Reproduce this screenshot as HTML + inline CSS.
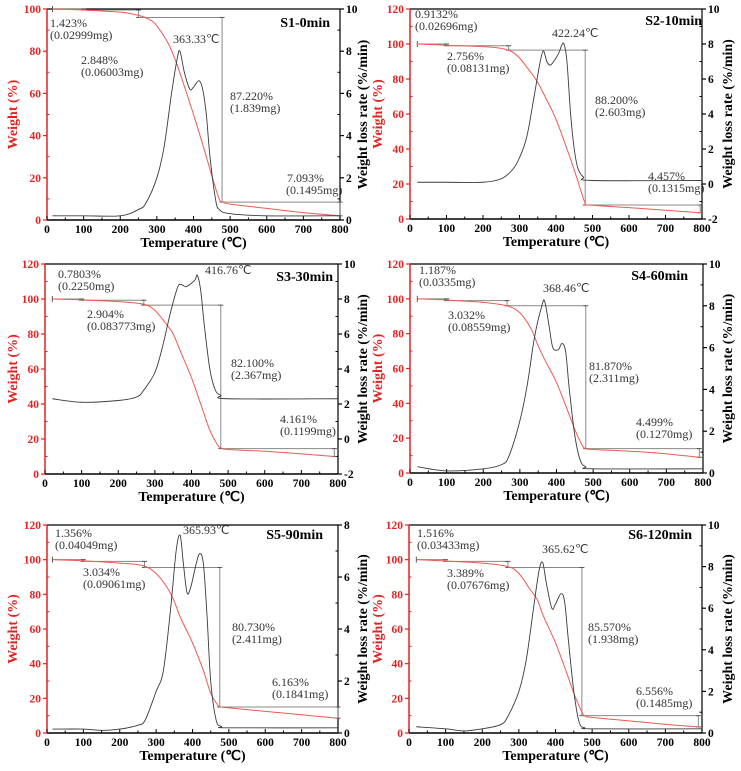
<!DOCTYPE html>
<html><head><meta charset="utf-8"><style>
body{margin:0;background:#fff}
svg{display:block}
text{font-family:"Liberation Serif",serif}
.tk{font-weight:bold;font-size:11.5px}
.an{font-size:12px;fill:#333}
</style></head><body>
<svg id="fig" width="741" height="771" viewBox="0 0 741 771"></svg>
<script>
// ---- data per panel ----
const p1WT=[15,100,200,250,280,300,330,350,370,400,430,450,470,480,500,600,700,800];
const p1W=[100,99.5,98.5,97,95,92,84,76,66,50,33,21,10,8.5,7.5,5.5,3.5,2];
const p1DT=[15,100,200,250,270,300,320,340,355,363,375,390,400,415,425,435,445,460,470,500,600,800];
const p1D=[0.2,0.2,0.2,0.5,0.8,2.0,3.5,6.0,7.6,8.0,7.0,6.2,6.3,6.6,6.2,5.0,3.0,1.0,0.5,0.3,0.2,0.2];
const p2WT=[20,100,200,250,280,300,330,350,370,400,430,450,470,480,490,600,700,800];
const p2W=[100,99.3,98.5,97.5,95.5,92,84,78,70,57,40,28,15,9,8,6.5,5,3.5];
const p2DT=[20,100,200,250,280,300,320,340,355,365,375,385,400,410,415,422,430,440,450,460,475,500,800];
const p2D=[0.1,0.1,0.1,0.3,0.8,1.5,2.7,5,6.8,7.6,7.0,6.8,7.2,7.6,7.9,8.0,7.0,4.0,2.0,0.9,0.4,0.2,0.2];
const p3WT=[20,100,200,270,300,330,350,370,400,430,450,470,480,500,600,700,790];
const p3W=[100,99.5,98.5,97,93.5,86,80,70,55,37,25,17,15,14,13,11.5,10];
const p3DT=[20,100,200,250,270,300,320,340,355,365,375,385,400,410,416,425,435,450,465,480,500,800];
const p3D=[2.3,2.1,2.2,2.4,2.8,3.8,5.2,7.0,8.2,8.8,8.8,8.7,8.9,9.1,9.35,8.5,6.5,4.0,2.8,2.5,2.3,2.3];
const p4WT=[20,100,200,265,300,330,350,368,400,430,450,470,480,500,600,700,790];
const p4W=[100,99.3,98,96,92,83,73,65,52,36,25,16,14,13.5,12.5,11,9];
const p4DT=[20,100,200,250,270,300,320,340,360,368,380,390,405,415,425,435,450,465,480,500,800];
const p4D=[0.3,0.1,0.2,0.4,0.8,2.5,4.2,6.5,8.0,8.2,7.0,6.0,5.9,6.2,5.8,4.0,1.8,0.6,0.3,0.2,0.2];
const p5WT=[15,100,200,265,300,330,350,366,400,430,450,470,480,500,600,700,800];
const p5W=[100,99.3,98,96.5,92,84,76,67,52,36,23,16,15,14.5,12.5,10.5,8.5];
const p5DT=[15,100,150,200,250,270,300,320,340,355,366,375,385,395,410,420,430,440,450,465,480,500,800];
const p5D=[0.15,0.15,0.1,0.15,0.3,0.5,1.6,2.4,4.8,7.0,7.6,6.5,5.4,5.6,6.5,6.9,6.5,4.5,2.0,0.5,0.25,0.2,0.2];
const p6WT=[20,100,200,270,300,330,350,366,400,430,450,470,480,500,600,700,790];
const p6W=[100,99.2,98,96,92,83,77,68,52,35,23,13,10,9,7,5,3.5];
const p6DT=[20,100,150,200,250,270,300,320,340,355,365,375,390,400,415,425,435,450,465,480,500,800];
const p6D=[0.3,0.2,0.1,0.2,0.4,0.8,2.0,3.5,6.0,7.8,8.2,7.2,6.0,6.2,6.7,6.3,4.5,2.0,0.5,0.25,0.2,0.2];
// step annotation temperatures and weight levels
const p1ST=[15,100,250,478,800], p1SL=[100,99.5,96,8.5,2];
const p2ST=[20,100,270,480,795], p2SL=[100,99,96.5,8,3.5];
const p3ST=[20,100,270,480,790], p3SL=[100,99.3,96.5,14.5,10];
const p4ST=[20,100,265,480,790], p4SL=[100,99,96,14,9];
const p5ST=[15,100,268,475,800], p5SL=[100,99,95.5,15,8.5];
const p6ST=[20,100,270,472,790], p6SL=[100,99,95.5,10,3.5];
const xTicks=[0,100,200,300,400,500,600,700,800];

const panels=[
 {id:'s1',box:[47,340,9,220],wMax:100,wStep:20,dMin:0,dMax:10,dStep:2,wt:p1WT,w:p1W,dt:p1DT,d:p1D,st:p1ST,sl:p1SL,rl:362,ll:12,
  title:['S1-0min',330,27],texts:[['1.423%',50,27],['(0.02999mg)',50,39],['2.848%',81,64],['(0.06003mg)',81,76],['363.33℃',173,43],['87.220%',230,100],['(1.839mg)',230,112],['7.093%',287,182],['(0.1495mg)',286,194]]},
 {id:'s2',box:[410,702,9,219],wMax:120,wStep:20,dMin:-2,dMax:10,dStep:2,wt:p2WT,w:p2W,dt:p2DT,d:p2D,st:p2ST,sl:p2SL,rl:727,ll:377,
  title:['S2-10min',702,25],texts:[['0.9132%',415,18],['(0.02696mg)',415,30],['2.756%',447,60],['(0.08131mg)',447,72],['422.24℃',552,37],['88.200%',595,104],['(2.603mg)',595,116],['4.457%',648,180],['(0.1315mg)',648,192]]},
 {id:'s3',box:[45,338,264,474],wMax:120,wStep:20,dMin:-2,dMax:10,dStep:2,wt:p3WT,w:p3W,dt:p3DT,d:p3D,st:p3ST,sl:p3SL,rl:362,ll:12,
  title:['S3-30min',333,281],texts:[['0.7803%',58,278],['(0.2250mg)',58,290],['2.904%',87,318],['(0.083773mg)',87,330],['416.76℃',205,274],['82.100%',231,367],['(2.367mg)',231,379],['4.161%',280,423],['(0.1199mg)',280,435]]},
 {id:'s4',box:[410,703,264,473],wMax:120,wStep:20,dMin:0,dMax:10,dStep:2,wt:p4WT,w:p4W,dt:p4DT,d:p4D,st:p4ST,sl:p4SL,rl:727,ll:377,
  title:['S4-60min',688,280],texts:[['1.187%',419,274],['(0.0335mg)',419,286],['3.032%',448,319],['(0.08559mg)',448,331],['368.46℃',543,292],['81.870%',589,370],['(2.311mg)',589,382],['4.499%',636,426],['(0.1270mg)',636,438]]},
 {id:'s5',box:[47,338,525,733],wMax:120,wStep:20,dMin:0,dMax:8,dStep:2,wt:p5WT,w:p5W,dt:p5DT,d:p5D,st:p5ST,sl:p5SL,rl:362,ll:12,
  title:['S5-90min',323,539],texts:[['1.356%',55,537],['(0.04049mg)',55,549],['3.034%',83,576],['(0.09061mg)',83,588],['365.93℃',183,534],['80.730%',232,631],['(2.411mg)',232,643],['6.163%',272,686],['(0.1841mg)',272,698]]},
 {id:'s6',box:[409,702,525,733],wMax:120,wStep:20,dMin:0,dMax:10,dStep:2,wt:p6WT,w:p6W,dt:p6DT,d:p6D,st:p6ST,sl:p6SL,rl:727,ll:377,
  title:['S6-120min',692,539],texts:[['1.516%',417,537],['(0.03433mg)',417,549],['3.389%',447,577],['(0.07676mg)',447,589],['365.62℃',542,553],['85.570%',588,631],['(1.938mg)',588,643],['6.556%',636,695],['(0.1485mg)',636,707]]}
];

const NS='http://www.w3.org/2000/svg';
const svg=document.getElementById('fig');
function mk(tag,attrs,parent){const e=document.createElementNS(NS,tag);for(const k in attrs)e.setAttribute(k,attrs[k]);(parent||svg).appendChild(e);return e;}
function txt(s,x,y,attrs,parent){const e=mk('text',Object.assign({x:x,y:y},attrs),parent);e.textContent=s;return e;}
function smooth(pts){
  let d='M'+pts[0][0]+','+pts[0][1];
  for(let i=0;i<pts.length-1;i++){
    const p0=pts[Math.max(0,i-1)],p1=pts[i],p2=pts[i+1],p3=pts[Math.min(pts.length-1,i+2)];
    const k=1/6;
    d+=' C'+(p1[0]+(p2[0]-p0[0])*k)+','+(p1[1]+(p2[1]-p0[1])*k)+' '+(p2[0]-(p3[0]-p1[0])*k)+','+(p2[1]-(p3[1]-p1[1])*k)+' '+p2[0]+','+p2[1];
  }
  return d;
}

panels.forEach(p=>{
  const [x0,x1,yt,yb]=p.box;
  const g=mk('g',{});
  
  
  const X=t=>x0+(x1-x0)*t/800;
  const YW=w=>yb-(yb-yt)*w/p.wMax;
  const YD=d=>yb-(yb-yt)*(d-p.dMin)/(p.dMax-p.dMin);
  const top=mk('line',{x1:x0,y1:yt,x2:x1,y2:yt,stroke:'#000','stroke-width':1.2},g);
  
  
  const bot=mk('line',{x1:x0,y1:yb,x2:x1,y2:yb,stroke:'#000','stroke-width':1.5},g);
  
  
  const ra=mk('line',{x1:x1,y1:yt,x2:x1,y2:yb,stroke:'#000','stroke-width':1.2},g);
  
  
  const la=mk('line',{x1:x0,y1:yt,x2:x0,y2:yb,stroke:'#e52222','stroke-width':1.5},g);
  
  
  xTicks.forEach(t=>{
    mk('line',{x1:X(t),y1:yb,x2:X(t),y2:yb-4,stroke:'#000'},g);
    if(t<800)mk('line',{x1:X(t+50),y1:yb,x2:X(t+50),y2:yb-2.5,stroke:'#000'},g);
    const l=txt(String(t),X(t),yb+13,{'text-anchor':'middle',class:'tk'},g);
    
    
  });
  const xt=txt('Temperature (℃)',(x0+x1)/2,yb+27,{'text-anchor':'middle','font-weight':'bold','font-size':'14px'},g);
  
  
  for(let w=0;w<=p.wMax;w+=p.wStep){
    mk('line',{x1:x0,y1:YW(w),x2:x0-4,y2:YW(w),stroke:'#e52222','stroke-width':1.2},g);
    if(w+p.wStep/2<p.wMax)mk('line',{x1:x0,y1:YW(w+p.wStep/2),x2:x0+2.5,y2:YW(w+p.wStep/2),stroke:'#e52222'},g);
    const l=txt(String(w),x0-6,YW(w)+4,{'text-anchor':'end',class:'tk',fill:'#e52222'},g);
    
    
  }
  for(let d=p.dMin;d<=p.dMax+1e-9;d+=p.dStep){
    mk('line',{x1:x1,y1:YD(d),x2:x1+4,y2:YD(d),stroke:'#000','stroke-width':1.2},g);
    if(d+p.dStep/2<p.dMax)mk('line',{x1:x1,y1:YD(d+p.dStep/2),x2:x1-2.5,y2:YD(d+p.dStep/2),stroke:'#000'},g);
    const l=txt(String(d),x1+6,YD(d)+4,{class:'tk'},g);
    
    
  }
  const cy=(yt+yb)/2;
  const lt=txt('Weight (%)',p.ll,cy,{'text-anchor':'middle','font-weight':'bold','font-size':'14px',fill:'#e52222',transform:`rotate(-90 ${p.ll} ${cy})`,dy:'5'},g);
  
  
  const rt=txt('Weight loss rate (%/min)',p.rl,cy,{'text-anchor':'middle','font-weight':'bold','font-size':'14px',transform:`rotate(-90 ${p.rl} ${cy})`,dy:'5'},g);
  
  
  for(let i=0;i<p.st.length-1;i++){
    mk('line',{x1:X(p.st[i]),y1:YW(p.sl[i]),x2:X(p.st[i+1]),y2:YW(p.sl[i]),stroke:'#888','stroke-width':1},g);
    mk('line',{x1:X(p.st[i+1]),y1:YW(p.sl[i]),x2:X(p.st[i+1]),y2:YW(p.sl[i+1]),stroke:'#888','stroke-width':1},g);
    mk('line',{x1:X(p.st[i+1])-2.5,y1:YW(p.sl[i]),x2:X(p.st[i+1])+2.5,y2:YW(p.sl[i]),stroke:'#555'},g);
    mk('line',{x1:X(p.st[i+1])-2.5,y1:YW(p.sl[i+1]),x2:X(p.st[i+1])+2.5,y2:YW(p.sl[i+1]),stroke:'#555'},g);
  }
  mk('line',{x1:X(p.st[0]),y1:YW(p.sl[0])-3,x2:X(p.st[0]),y2:YW(p.sl[0])+3,stroke:'#555'},g);
  const wl=mk('path',{d:smooth(p.wt.map((t,i)=>[X(t),YW(p.w[i])])),fill:'none',stroke:'#ee5a52','stroke-width':1},g);
  
  
  const dl=mk('path',{d:smooth(p.dt.map((t,i)=>[X(t),YD(p.d[i])])),fill:'none',stroke:'#3a3a3a','stroke-width':0.9},g);
  
  
  p.texts.forEach(a=>{
    const e=txt(a[0],a[1],a[2],{class:'an'},g);
    
    
  });
  const tt=txt(p.title[0],p.title[1],p.title[2],{'text-anchor':'end','font-weight':'bold','font-size':'14px'},g);
  
  
});
</script>
</body></html>
